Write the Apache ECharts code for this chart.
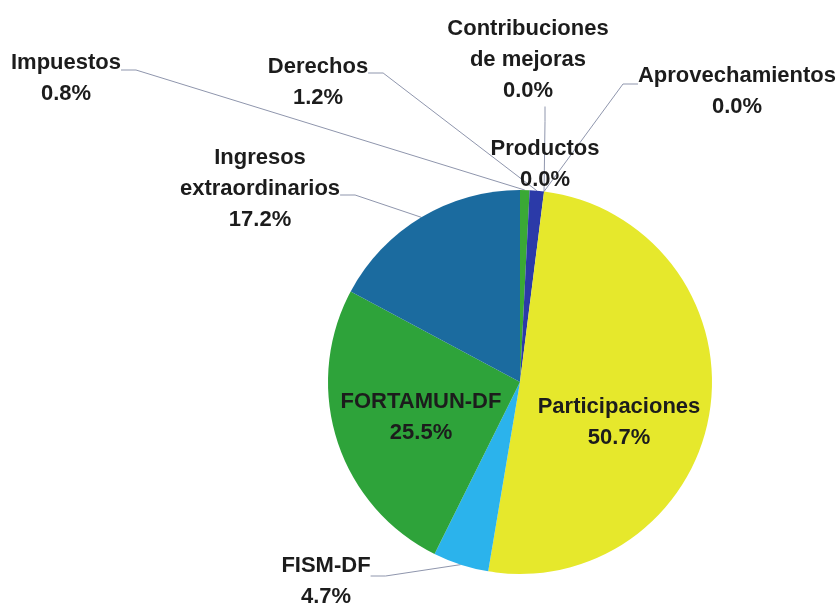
<!DOCTYPE html>
<html>
<head>
<meta charset="utf-8">
<script src="https://cdn.jsdelivr.net/npm/echarts@6/dist/echarts.min.js"></script>
<style>html,body{margin:0;padding:0;background:#fff}#c{width:839px;height:604px}</style>
</head>
<body>
<div id="c"></div>
<script>
const categories = ['Impuestos','Derechos','Contribuciones\nde mejoras','Aprovechamientos','Productos','Participaciones','FISM-DF','FORTAMUN-DF','Ingresos\nextraordinarios'];
const values = [0.8, 1.2, 0.0, 0.0, 0.0, 50.7, 4.7, 25.5, 17.2];
const colors = ['#3aa935','#2b3aa8','#2b3aa8','#2b3aa8','#2b3aa8','#e6e82c','#2bb3ec','#2ea33a','#1b6b9f'];
const insideLabels = ['Participaciones','FORTAMUN-DF'];
// label layout: anchor [x, y] and spacers [top, bottom, right] that move the leader-line attach point
const labelPos = [[66,70],[318,73],[545,60],[737,84],[545,164],[619,422],[326,576],[421,417],[260,195]];
const labelSpace = [[16,0,0],[18,0,0],[0,0,34],[14,0,0],[0,0,0],[0,0,0],[10,0,0],[0,0,0],[0,13,0]];

const FONT = 'Liberation Sans, Arial, sans-serif';
const chart = echarts.init(document.getElementById('c'), null, {renderer:'canvas'});
const data = categories.map((n,i)=>{
  const inside = insideLabels.indexOf(n) >= 0;
  const sp = labelSpace[i];
  const rich = {
    t:{fontFamily:FONT, fontWeight:'bold', fontSize:22, lineHeight:31, color:'#1c1c1c'},
    vt:{fontSize:1, lineHeight:sp[0] || 1},
    vb:{fontSize:1, lineHeight:sp[1] || 1},
    hr:{fontSize:1, width:sp[2] || 0}
  };
  return {
    name: n, value: values[i],
    itemStyle: {color: colors[i]},
    label: {position: inside ? 'inside' : 'outside', rich: rich},
    labelLine: {show: !inside && n !== 'Productos'}
  };
});
function fmt(p){
  const sp = labelSpace[p.dataIndex];
  const lines = (p.name + '\n' + p.value.toFixed(1) + '%').split('\n');
  let out = lines.map(l => '{t|' + l + '}' + (sp[2] ? '{hr| }' : ''));
  if (sp[0]) out.unshift('{vt| }');
  if (sp[1]) out.push('{vb| }');
  return out.join('\n');
}
chart.setOption({
  backgroundColor:'#ffffff',
  animation:false,
  series:[{
    type:'pie',
    center:[520,382],
    radius:192,
    startAngle:90,
    clockwise:true,
    avoidLabelOverlap:false,
    data:data,
    label:{
      show:true,
      formatter:fmt,
      fontFamily:FONT,
      fontWeight:'bold',
      fontSize:22,
      lineHeight:31,
      color:'#1c1c1c',
      align:'center'
    },
    labelLine:{
      show:true,
      length:20,
      length2:15,
      smooth:false,
      lineStyle:{color:'#8f96ad',width:1}
    },
    labelLayout:function(params){
      const p = labelPos[params.dataIndex];
      return {x:p[0], y:p[1], align:'center', verticalAlign:'middle'};
    },
    emphasis:{disabled:true}
  }]
});
</script>
</body>
</html>
